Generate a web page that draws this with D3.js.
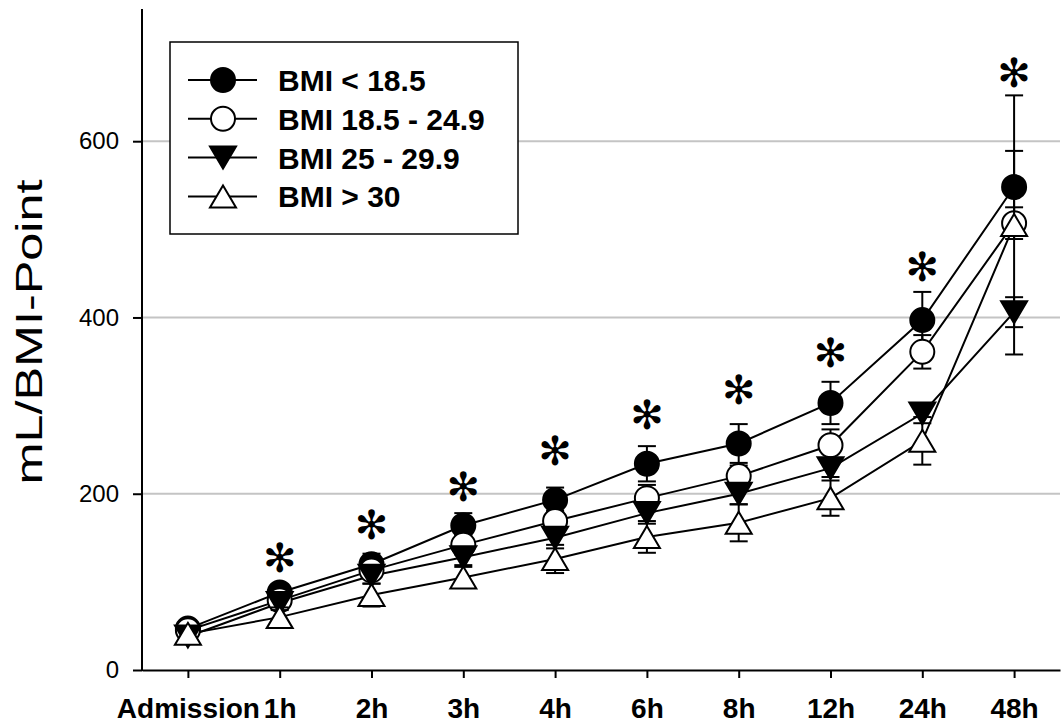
<!DOCTYPE html>
<html>
<head>
<meta charset="utf-8">
<script src="https://cdn.jsdelivr.net/npm/d3@7"></script>
<style>
  body { margin: 0; background: #fff; }
  svg { display: block; }
</style>
</head>
<body>
<svg id="chart" width="1063" height="728"></svg>
<script>
// values
const timeLabels = ["Admission", "1h", "2h", "3h", "4h", "6h", "8h", "12h", "24h", "48h"];
const seriesNames = ["BMI < 18.5", "BMI 18.5 - 24.9", "BMI 25 - 29.9", "BMI > 30"];

const bmiUnder = [47, 88, 120, 164, 193, 234, 257, 303, 397, 548];
const bmiUnderSd = [6, 8, 12, 14, 14, 20, 22, 24, 32, 41];
const bmiNormal = [45, 79, 113, 142, 169, 195, 220, 255, 361, 507];
const bmiNormalSd = [6, 8, 9, 11, 12, 15, 12, 18, 19, 18];
const bmiOver = [38, 76, 107, 128, 150, 178, 200, 229, 291, 406];
const bmiOverSd = [8, 8, 9, 9, 12, 12, 12, 10, 11, 17];
const bmiObese = [41, 60, 85, 105, 126, 151, 167, 195, 260, 505];
const bmiObeseSd = [8, 11, 13, 12, 16, 18, 21, 20, 27, 147];

const asteriskLevels = [null, 127, 164, 208, 248, 289, 318, 360, 457, 677];
const yTicks = [0, 200, 400, 600];

const markerTypes = ["circleFilled", "circleOpen", "triDown", "triUp"];
const allValues = [bmiUnder, bmiNormal, bmiOver, bmiObese];
const allSd = [bmiUnderSd, bmiNormalSd, bmiOverSd, bmiObeseSd];

const series = seriesNames.map((name, i) => ({
    name: name,
    marker: markerTypes[i],
    points: timeLabels.map((t, j) => ({ time: t, value: allValues[i][j], sd: allSd[i][j] }))
}));

const svg = d3.select("#chart");
const fontSans = "Arial, 'Liberation Sans', sans-serif";

const timeScale = d3.scalePoint()
                    .domain(timeLabels)
                    .range([142, 1060])
                    .padding(0.5);
const valueScale = d3.scaleLinear()
                     .domain([0, 750])
                     .range([670, 9]);

function x(d) { return timeScale(d.time) }
function y(d) { return valueScale(d.value) }

// gridlines
svg.append("g")
   .selectAll("line")
   .data(yTicks.filter(v => v > 0))
   .join("line")
   .attr("x1", 142)
   .attr("x2", 1060)
   .attr("y1", d => valueScale(d))
   .attr("y2", d => valueScale(d))
   .attr("stroke", "#c4c4c4")
   .attr("stroke-width", 2);

// y axis
let yAxis = svg.append("g")
               .attr("transform", "translate(142,0)")
               .call(d3.axisLeft(valueScale)
                       .tickValues(yTicks)
                       .tickSize(9)
                       .tickPadding(14));
yAxis.select(".domain").remove();
yAxis.selectAll(".tick line").attr("stroke", "#000").attr("stroke-width", 2);
yAxis.selectAll(".tick text")
     .attr("font-family", fontSans)
     .attr("font-size", 24)
     .attr("fill", "#000");
svg.append("line")
   .attr("x1", 142).attr("x2", 142)
   .attr("y1", valueScale.range()[1]).attr("y2", 671)
   .attr("stroke", "#000")
   .attr("stroke-width", 2);

// x axis
let xAxis = svg.append("g")
               .attr("transform", "translate(0,670)")
               .call(d3.axisBottom(timeScale)
                       .tickSize(8)
                       .tickSizeOuter(0)
                       .tickPadding(20));
xAxis.select(".domain").attr("stroke", "#000").attr("stroke-width", 2);
xAxis.selectAll(".tick line").attr("stroke", "#000").attr("stroke-width", 2);
xAxis.selectAll(".tick text")
     .attr("font-family", fontSans)
     .attr("font-size", 28)
     .attr("font-weight", "bold")
     .attr("fill", "#000");

// y title
svg.append("text")
   .attr("transform", "translate(42,332) rotate(-90)")
   .attr("text-anchor", "middle")
   .attr("font-family", fontSans)
   .attr("font-size", 37)
   .attr("textLength", 305)
   .attr("lengthAdjust", "spacingAndGlyphs")
   .text("mL/BMI-Point");

// markers
function drawMarker(sel, type) {
    if (type === "circleFilled" || type === "circleOpen") {
        sel.append("circle")
           .attr("r", 12)
           .attr("fill", type === "circleFilled" ? "#000" : "#fff")
           .attr("stroke", "#000")
           .attr("stroke-width", 2);
    } else {
        let p = type === "triDown" ? "M-13,-11L13,-11L0,11Z" : "M0,-11L13,11L-13,11Z";
        sel.append("path")
           .attr("d", p)
           .attr("fill", type === "triDown" ? "#000" : "#fff")
           .attr("stroke", "#000")
           .attr("stroke-width", 2)
           .attr("stroke-linejoin", "miter");
    }
}

const line = d3.line()
               .x(d => x(d))
               .y(d => y(d));

let plotArea = svg.append("g").attr("id", "plotArea");

plotArea.selectAll("path.seriesLine")
        .data(series)
        .join("path")
        .attr("class", "seriesLine")
        .attr("d", d => line(d.points))
        .attr("fill", "none")
        .attr("stroke", "#000")
        .attr("stroke-width", 2);

series.forEach(s => {
    let g = plotArea.append("g");

    let bars = g.selectAll("g.errBar")
                .data(s.points)
                .join("g")
                .attr("class", "errBar")
                .attr("stroke", "#000")
                .attr("stroke-width", 2);
    bars.append("line")
        .attr("x1", d => x(d)).attr("x2", d => x(d))
        .attr("y1", d => valueScale(d.value + d.sd))
        .attr("y2", d => valueScale(d.value - d.sd));
    bars.append("line")
        .attr("x1", d => x(d) - 9).attr("x2", d => x(d) + 9)
        .attr("y1", d => valueScale(d.value + d.sd))
        .attr("y2", d => valueScale(d.value + d.sd));
    bars.append("line")
        .attr("x1", d => x(d) - 9).attr("x2", d => x(d) + 9)
        .attr("y1", d => valueScale(d.value - d.sd))
        .attr("y2", d => valueScale(d.value - d.sd));

    g.selectAll("g.marker")
     .data(s.points)
     .join("g")
     .attr("class", "marker")
     .attr("transform", d => `translate(${x(d)},${y(d)})`)
     .call(sel => drawMarker(sel, s.marker));
});

// significance asterisks
svg.append("g")
   .selectAll("text")
   .data(timeLabels.map((t, i) => ({ time: t, value: asteriskLevels[i] })).filter(d => d.value !== null))
   .join("text")
   .attr("x", d => x(d))
   .attr("y", d => y(d))
   .attr("text-anchor", "middle")
   .attr("dominant-baseline", "central")
   .attr("font-family", "'DejaVu Sans', sans-serif")
   .attr("font-size", 40)
   .text("\u273B");

// legend
let legend = svg.append("g").attr("id", "legend");
legend.append("rect")
      .attr("x", 170).attr("y", 42)
      .attr("width", 348).attr("height", 192)
      .attr("fill", "#fff")
      .attr("stroke", "#000")
      .attr("stroke-width", 1.5);

let legendRows = legend.selectAll("g.row")
                       .data(series)
                       .join("g")
                       .attr("class", "row")
                       .attr("transform", (d, i) => `translate(0,${80 + i * 38.8})`);
legendRows.append("line")
          .attr("x1", 188).attr("x2", 257)
          .attr("stroke", "#000")
          .attr("stroke-width", 2);
legendRows.each(function(d) {
    let m = d3.select(this).append("g").attr("transform", "translate(223,0)");
    drawMarker(m, d.marker);
});
legendRows.append("text")
          .attr("x", 278)
          .attr("y", 11)
          .attr("font-family", fontSans)
          .attr("font-size", 30)
          .attr("font-weight", "bold")
          .text(d => d.name);
</script>
</body>
</html>
